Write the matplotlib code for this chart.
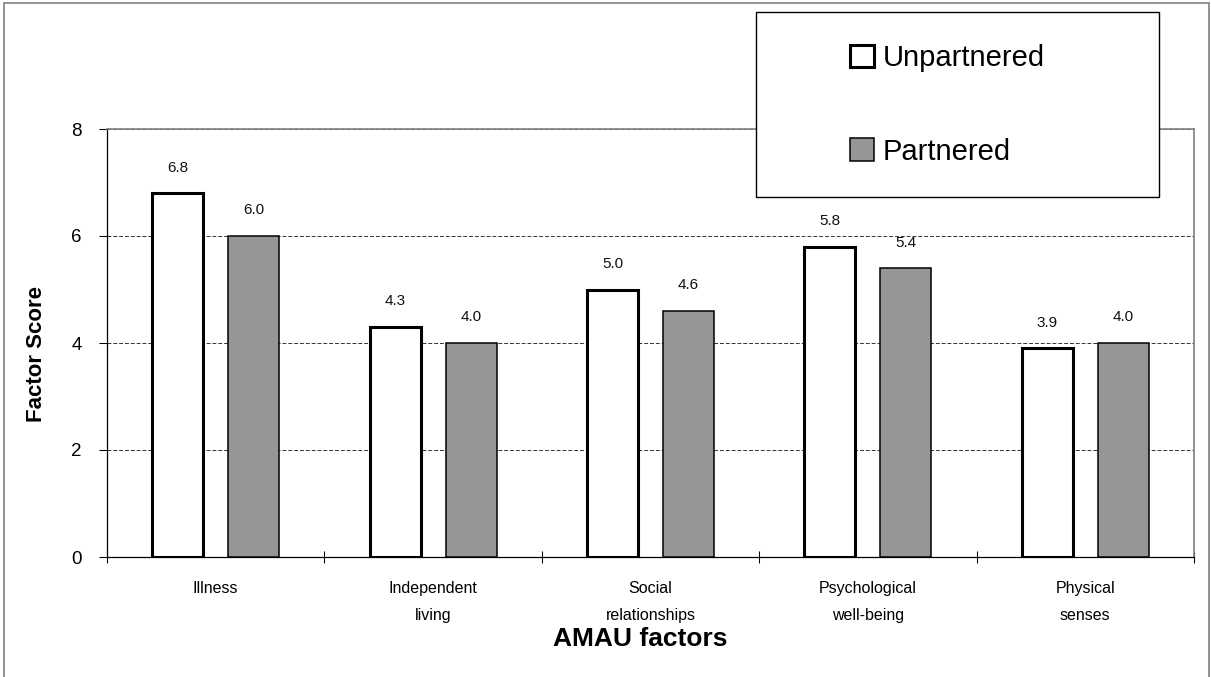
import numpy as np
import matplotlib
matplotlib.use("Agg")
from matplotlib import pyplot as plt
from matplotlib.patches import Rectangle

plt.rcParams['font.family'] = ['Liberation Sans', 'DejaVu Sans']

factors = ['Illness', 'Independent\nliving', 'Social\nrelationships',
           'Psychological\nwell-being', 'Physical\nsenses']
unpartnered = [6.8, 4.3, 5.0, 5.8, 3.9]
partnered = [6.0, 4.0, 4.6, 5.4, 4.0]
yticks = [0, 2, 4, 6, 8]

W, H = 1211, 677
fig = plt.figure(figsize=(W / 100, H / 100), dpi=100)
ax = fig.add_axes([107 / W, 1 - 557 / H, (1194 - 107) / W, (557 - 129) / H])

x = np.arange(len(factors))
width = 0.235
off = 0.175

b1 = ax.bar(x - off, unpartnered, width, color='white', edgecolor='black',
            linewidth=2.2, label='Unpartnered', zorder=3)
b2 = ax.bar(x + off, partnered, width, color='#969696', edgecolor='black',
            linewidth=1.1, label='Partnered', zorder=3)

for xs, vals in ((x - off, unpartnered), (x + off, partnered)):
    for xi, v in zip(xs, vals):
        ax.annotate(f'{v:.1f}', (xi, v), xytext=(0, 15.5), textcoords='offset points',
                    ha='center', va='baseline', fontsize=11, color='#111111')

ax.set_xlim(-0.5, len(factors) - 0.5)
ax.set_ylim(0, 8)
ax.set_yticks(yticks)
ax.tick_params(axis='y', direction='out', length=6, width=0.75, pad=12, labelsize=13.5)

# category boundaries carry the ticks, labels sit at the centers
ax.set_xticks(np.arange(len(factors) + 1) - 0.5)
ax.set_xticklabels([])
ax.tick_params(axis='x', which='major', direction='inout', length=9, width=0.75)
ax.set_xticks(x, minor=True)
ax.set_xticklabels(factors, minor=True, fontsize=11.5, linespacing=2.05)
ax.tick_params(axis='x', which='minor', length=0, pad=17)

ax.grid(axis='y', color='#333333', linestyle=(0, (4, 2)), linewidth=0.7)
ax.set_axisbelow(True)
for s in ('left', 'bottom'):
    ax.spines[s].set_color('black')
    ax.spines[s].set_linewidth(0.9)
for s in ('top', 'right'):
    ax.spines[s].set_color('#808080')
    ax.spines[s].set_linewidth(1.2)

ax.set_ylabel('Factor Score', fontsize=16, fontweight='bold')
ax.yaxis.set_label_coords(-0.055, 0.474)
ax.set_xlabel('AMAU factors', fontsize=19, fontweight='bold')
ax.xaxis.set_label_coords(0.491, -0.163)

# legend box
fig.add_artist(Rectangle((756 / W, 1 - 197 / H), (1159 - 756) / W, (197 - 12) / H,
                         transform=fig.transFigure, facecolor='white',
                         edgecolor='black', linewidth=1.0, zorder=2))
fig.legend(handles=[b1, b2], loc='upper left', bbox_to_anchor=(850 / W, 1 - 44 / H),
           frameon=False, fontsize=21, handlelength=0.82, handleheight=0.82,
           handletextpad=0.3, labelspacing=2.25, borderpad=0, borderaxespad=0)

# outer frame
fig.add_artist(Rectangle((4 / W, -0.01), (1209 - 4) / W, 1 - 3 / H + 0.01,
                         transform=fig.transFigure, facecolor='none',
                         edgecolor='#808080', linewidth=1.2, zorder=1))

fig.savefig('out.png', dpi=100)
